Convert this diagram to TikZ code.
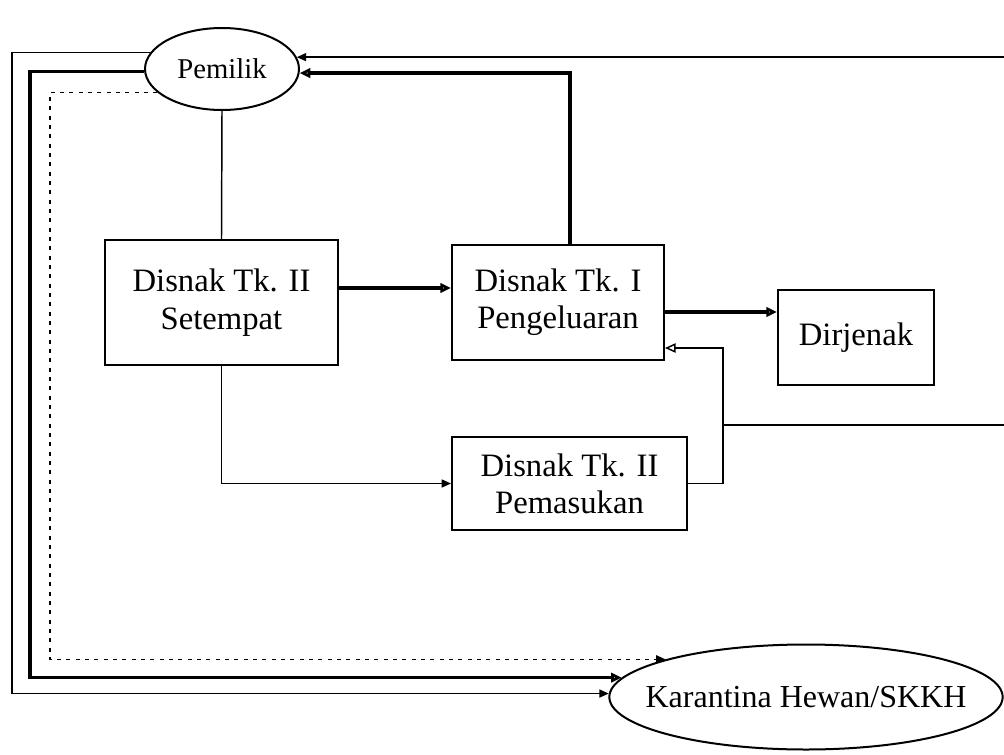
\documentclass[tikz,border=0pt]{standalone}
\usepackage{fontspec}
\setmainfont{Liberation Serif}
\usetikzlibrary{arrows.meta,shapes.geometric}

\tikzset{every picture/.style={line width=0.75pt}}
\tikzset{
  kotak/.style={draw, line width=1.5pt, inner sep=0pt, align=center, font=\fontsize{24.5}{28}\selectfont},
  elips/.style={draw, ellipse, line width=1.5pt, inner sep=0pt, font=\fontsize{24}{28}\selectfont},
  tipis/.style={line width=1.1pt},
  tebal/.style={line width=2.6pt},
  putus/.style={line width=1.2pt, dash pattern={on 3pt off 4pt}},
  ujungbuka/.style={-{Triangle[open,length=8pt,width=7pt]}},
  ujungisi/.style={-{Triangle[length=7pt,width=6pt]}}
}

\begin{document}
\begin{tikzpicture}[x=0.75pt,y=0.75pt,yscale=-1,xscale=1]
\useasboundingbox (0,0) rectangle (1004,754);

%Shape: Ellipse [pemilik]
\node (pemilik) [elips, minimum width=115.5pt, minimum height=61.5pt, inner xsep=-6pt, font=\fontsize{21.5}{25}\selectfont] at (222,69) {Pemilik};
%Shape: Ellipse [karantina]
\node (karantina) [elips, minimum width=291pt, minimum height=78.75pt, inner xsep=-16pt, inner ysep=-4pt] at (806,697) {Karantina Hewan/SKKH};

%Shape: Rectangle [setempat]
\node (setempat) [kotak, minimum width=174.75pt, minimum height=93.75pt] at (221.5,302.5) {Disnak Tk. II\\Setempat};
%Shape: Rectangle [pengeluaran]
\node (pengeluaran) [kotak, minimum width=159pt, minimum height=86.25pt] at (558,302.5) {Disnak Tk. I\\Pengeluaran};
%Shape: Rectangle [dirjenak]
\node (dirjenak) [kotak, minimum width=117pt, minimum height=71.25pt] at (856,337.5) {Dirjenak};
%Shape: Rectangle [pemasukan]
\node (pemasukan) [kotak, minimum width=176.25pt, minimum height=69.75pt] at (569.5,483.5) {Disnak Tk. II\\Pemasukan};

% free ends
\coordinate (kanan1) at (1004,0);
\coordinate (kanan2) at (1004,425);
\coordinate (kiri1) at (12,0);
\coordinate (kiri2) at (30,0);
\coordinate (kiri3) at (50,0);

%Straight Lines
\draw [tipis] (pemilik.south) -- (setempat.north);
\draw [tebal, ujungbuka] (setempat.east |- 0,288) -- (pengeluaran.west |- 0,288);
\draw [tebal, ujungbuka] (pengeluaran.east |- 0,312) -- (dirjenak.west |- 0,312);
\draw [tipis, ujungisi] (setempat.south) |- (pemasukan.west);
\draw [tipis, ujungbuka] (pemasukan.east) -- ++(35,0) coordinate (belok) |- (pengeluaran.east |- 0,348);
\draw [tipis] (belok |- kanan2) -- (kanan2);
\draw [tebal, ujungbuka] ([xshift=9pt]pengeluaran.north) |- (pemilik.-3);
\draw [tipis, ujungisi] (kanan1 |- pemilik.9) -- (pemilik.9);

%Lines to Karantina
\draw [tipis, ujungisi] (pemilik.167) -| (kiri1 |- karantina.179) -- (karantina.179);
\draw [tebal, ujungbuka] (pemilik.182) -| (kiri2 |- karantina.174) -- (karantina.174);
\draw [putus, ujungisi] (pemilik.200) -| (kiri3 |- karantina.165) -- (karantina.165);

\end{tikzpicture}
\end{document}
